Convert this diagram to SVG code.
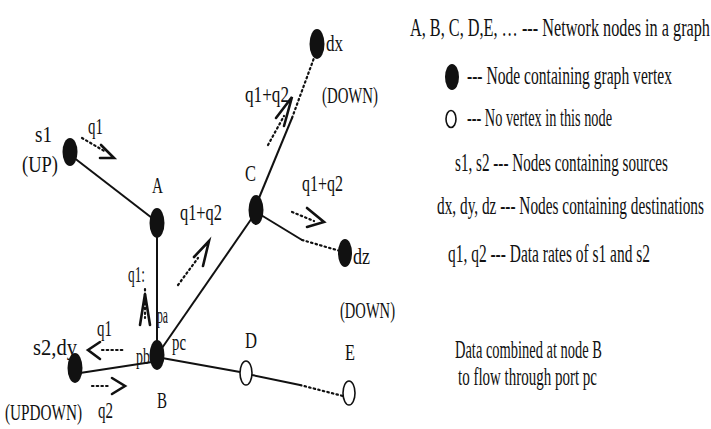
<svg xmlns="http://www.w3.org/2000/svg" width="711" height="429" viewBox="0 0 711 429">
<style>
.t{font-family:"Liberation Serif","Times New Roman",serif;font-size:25px;fill:#111}
.l{font-family:"Liberation Serif","Times New Roman",serif;font-size:24px;fill:#111}
.edge{stroke:#111;stroke-width:2;fill:none}
.dot{stroke:#111;stroke-width:2.2;stroke-dasharray:1.5 3.2;stroke-linecap:round;fill:none}
.head{stroke:#111;stroke-width:2.6;fill:none;stroke-linejoin:miter;stroke-linecap:round}
.full{fill:#111}
.open{fill:#fff;stroke:#111;stroke-width:1.6}
</style>
<rect width="711" height="429" fill="#fff"/>

<g id="connectors">
  <line class="edge" x1="73" y1="157" x2="152" y2="218"/>
  <line class="edge" x1="157" y1="234" x2="157" y2="345"/>
  <line class="edge" x1="162" y1="348" x2="252" y2="218"/>
  <line class="edge" x1="259" y1="198" x2="292" y2="118"/>
  <line class="dot" x1="292" y1="118" x2="314" y2="58"/>
  <line class="edge" x1="261" y1="215" x2="302" y2="240"/>
  <line class="dot" x1="302" y1="240" x2="340" y2="251"/>
  <line class="edge" x1="80" y1="373" x2="152" y2="362"/>
  <line class="edge" x1="162" y1="358" x2="240" y2="372"/>
  <line class="edge" x1="252" y1="375" x2="300" y2="385"/>
  <line class="dot" x1="300" y1="385" x2="343" y2="396"/>
</g>

<g id="flows">
  <line class="dot" x1="82" y1="138" x2="106" y2="152"/>
  <path class="head" d="M101,145 L114,158 L100,158"/>
  <line class="dot" x1="178" y1="285" x2="198" y2="258"/>
  <path class="head" d="M194,257 L209,241 L203,266"/>
  <line class="dot" x1="268" y1="145" x2="284" y2="116"/>
  <path class="head" d="M276,118 L292,97 L284,126"/>
  <line class="dot" x1="292" y1="212" x2="314" y2="221"/>
  <path class="head" d="M307,208 L324,222 L307,227"/>
  <line class="dot" x1="145" y1="289" x2="145" y2="318"/>
  <path class="head" d="M140,325 L145,294 L150,325"/>
  <line class="dot" x1="102" y1="350" x2="123" y2="350"/>
  <path class="head" d="M100,342 L88,350 L100,359"/>
  <line class="dot" x1="92" y1="386" x2="109" y2="386"/>
  <path class="head" d="M112,378 L125,386 L112,394"/>
</g>

<g id="node-s1"><ellipse class="full" cx="70" cy="152" rx="7.5" ry="14"/>
  <text class="l" transform="translate(35,142) scale(0.65,1)" textLength="26.2" lengthAdjust="spacingAndGlyphs">s1</text>
  <text class="l" transform="translate(22,172) scale(0.65,1)" textLength="55.4" lengthAdjust="spacingAndGlyphs">(UP)</text></g>
<g id="node-A"><ellipse class="full" cx="157" cy="223" rx="7.5" ry="15"/>
  <text class="l" transform="translate(152,193) scale(0.65,1)" textLength="16.9" lengthAdjust="spacingAndGlyphs">A</text></g>
<g id="node-B"><ellipse class="full" cx="157" cy="355" rx="7.5" ry="15"/>
  <text class="l" transform="translate(157,408) scale(0.65,1)" textLength="15.4" lengthAdjust="spacingAndGlyphs">B</text>
  <text class="l" transform="translate(157,323) scale(0.65,1)" textLength="16.9" lengthAdjust="spacingAndGlyphs">pa</text>
  <text class="l" transform="translate(136,364) scale(0.65,1)" textLength="21.5" lengthAdjust="spacingAndGlyphs">pb</text>
  <text class="l" transform="translate(172,350) scale(0.65,1)" textLength="21.5" lengthAdjust="spacingAndGlyphs">pc</text></g>
<g id="node-C"><ellipse class="full" cx="256" cy="210" rx="7.5" ry="15"/>
  <text class="l" transform="translate(245,181) scale(0.65,1)" textLength="16.9" lengthAdjust="spacingAndGlyphs">C</text></g>
<g id="node-D"><ellipse class="open" cx="246" cy="373" rx="6" ry="12"/>
  <text class="l" transform="translate(245,348) scale(0.65,1)" textLength="18.5" lengthAdjust="spacingAndGlyphs">D</text></g>
<g id="node-E"><ellipse class="open" cx="349" cy="393" rx="6" ry="12"/>
  <text class="l" transform="translate(345,360) scale(0.65,1)" textLength="15.4" lengthAdjust="spacingAndGlyphs">E</text></g>
<g id="node-dx"><ellipse class="full" cx="317" cy="44" rx="7.5" ry="15"/>
  <text class="l" transform="translate(326,51) scale(0.65,1)" textLength="26.2" lengthAdjust="spacingAndGlyphs">dx</text>
  <text class="l" transform="translate(322,103) scale(0.65,1)" textLength="86.2" lengthAdjust="spacingAndGlyphs">(DOWN)</text></g>
<g id="node-dz"><ellipse class="full" cx="345" cy="253" rx="7" ry="14"/>
  <text class="l" transform="translate(353,264) scale(0.65,1)" textLength="26.2" lengthAdjust="spacingAndGlyphs">dz</text>
  <text class="l" transform="translate(340,318) scale(0.65,1)" textLength="84.6" lengthAdjust="spacingAndGlyphs">(DOWN)</text></g>
<g id="node-s2dy"><ellipse class="full" cx="75" cy="368" rx="7.5" ry="15"/>
  <text class="l" transform="translate(33,355) scale(0.65,1)" textLength="67.7" lengthAdjust="spacingAndGlyphs">s2,dy</text>
  <text class="l" transform="translate(5,420) scale(0.65,1)" textLength="118.5" lengthAdjust="spacingAndGlyphs">(UPDOWN)</text></g>

<g id="flow-labels">
  <text class="l" transform="translate(88,134) scale(0.65,1)" textLength="23.1" lengthAdjust="spacingAndGlyphs">q1</text>
  <text class="l" transform="translate(180,220) scale(0.65,1)" textLength="64.6" lengthAdjust="spacingAndGlyphs">q1+q2</text>
  <text class="l" transform="translate(245,102) scale(0.65,1)" textLength="67.7" lengthAdjust="spacingAndGlyphs">q1+q2</text>
  <text class="l" transform="translate(302,191) scale(0.65,1)" textLength="63.1" lengthAdjust="spacingAndGlyphs">q1+q2</text>
  <text class="l" transform="translate(128,282) scale(0.65,1)" textLength="26.2" lengthAdjust="spacingAndGlyphs">q1:</text>
  <text class="l" transform="translate(97,336) scale(0.65,1)" textLength="23.1" lengthAdjust="spacingAndGlyphs">q1</text>
  <text class="l" transform="translate(98,418) scale(0.65,1)" textLength="23.1" lengthAdjust="spacingAndGlyphs">q2</text>
</g>

<g id="legend">
  <text class="t" transform="translate(410,36) scale(0.6,1)" textLength="500" lengthAdjust="spacingAndGlyphs">A, B, C, D,E, …  --- Network  nodes in a graph</text>
  <ellipse class="full" cx="452" cy="77" rx="7" ry="13"/>
  <text class="t" transform="translate(467,84) scale(0.6,1)" textLength="341.7" lengthAdjust="spacingAndGlyphs">--- Node containing graph vertex</text>
  <ellipse class="open" cx="451" cy="119" rx="5" ry="8.5"/>
  <text class="t" transform="translate(467,126) scale(0.6,1)" textLength="241.7" lengthAdjust="spacingAndGlyphs">--- No vertex in this node</text>
  <text class="t" transform="translate(455,171) scale(0.6,1)" textLength="355" lengthAdjust="spacingAndGlyphs">s1, s2  --- Nodes containing sources</text>
  <text class="t" transform="translate(437,214) scale(0.6,1)" textLength="445" lengthAdjust="spacingAndGlyphs">dx, dy, dz  --- Nodes containing destinations</text>
  <text class="t" transform="translate(448,262) scale(0.6,1)" textLength="336.7" lengthAdjust="spacingAndGlyphs">q1, q2  --- Data rates of s1 and s2</text>
  <text class="t" transform="translate(455,358) scale(0.6,1)" textLength="245" lengthAdjust="spacingAndGlyphs">Data combined at node B</text>
  <text class="t" transform="translate(458,385) scale(0.6,1)" textLength="231.7" lengthAdjust="spacingAndGlyphs">to flow through port  pc</text>
</g>
</svg>
